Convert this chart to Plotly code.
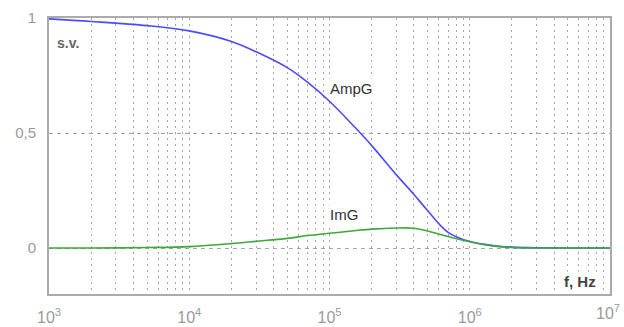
import plotly.graph_objects as go

# Data
freq_hz = [1e3, 2e3, 5e3, 1e4, 2e4, 3e4, 5e4, 7e4, 1e5, 1.5e5, 2e5, 3e5, 4e5,
           5e5, 7e5, 1e6, 1.5e6, 2e6, 3e6, 5e6, 1e7]
amp_g = [0.996, 0.985, 0.967, 0.944, 0.898, 0.853, 0.784, 0.72, 0.638, 0.528,
         0.445, 0.318, 0.233, 0.163, 0.068, 0.028, 0.010, 0.004, 0.001, 0.0, 0.0]
im_g = [0.0, 0.0, 0.002, 0.006, 0.019, 0.029, 0.042, 0.054, 0.064, 0.075,
        0.082, 0.087, 0.086, 0.074, 0.05, 0.027, 0.008, 0.002, 0.0, 0.0, 0.0]

x_tick_vals = [1e3, 1e4, 1e5, 1e6, 1e7]
x_tick_text = ["10<sup>3</sup>", "10<sup>4</sup>", "10<sup>5</sup>",
               "10<sup>6</sup>", ""]
last_x_label = "10<sup>7</sup>"
y_tick_vals = [0, 0.5, 1]
y_tick_text = ["0", "0,5", "1"]

minor_vals = [m * 10 ** e for e in range(3, 7) for m in range(2, 10)]

fig = go.Figure()
fig.add_trace(go.Scatter(x=freq_hz, y=amp_g, mode="lines", line_shape="spline",
                         line=dict(color="#4b4bff", width=1.6), name="AmpG"))
fig.add_trace(go.Scatter(x=freq_hz, y=im_g, mode="lines", line_shape="spline",
                         line=dict(color="#3ea83e", width=1.6), name="ImG"))

grid_c = "#a5a5a5"
fig.update_layout(
    width=624, height=327,
    margin=dict(l=49, r=14, t=18, b=33),
    paper_bgcolor="white", plot_bgcolor="white",
    showlegend=False,
    font=dict(family="Liberation Sans, Arial, sans-serif"),
    xaxis=dict(type="log", range=[3, 7], tickvals=x_tick_vals, ticktext=x_tick_text,
               automargin=False, ticklabelstandoff=8,
               showgrid=True, gridcolor=grid_c, griddash="2px,4px", gridwidth=1,
               minor=dict(tickvals=minor_vals, showgrid=True, gridcolor=grid_c,
                          griddash="2px,4px", gridwidth=1),
               showline=True, mirror=True, linecolor="#ababab", linewidth=2,
               ticks="", zeroline=False,
               tickfont=dict(size=16, color="#9a9a9a")),
    yaxis=dict(range=[-0.2, 1.0], tickvals=y_tick_vals, ticktext=y_tick_text,
               automargin=False,
               showgrid=True, gridcolor=grid_c, griddash="4px,4px", gridwidth=1,
               showline=True, mirror=True, linecolor="#ababab", linewidth=2,
               ticks="", zeroline=False, ticklabelstandoff=8,
               tickfont=dict(size=15, color="#9a9a9a")),
)

fig.add_annotation(xref="paper", yref="paper", x=1, y=0, text=last_x_label,
                   showarrow=False, xanchor="right", yanchor="top",
                   xshift=12, yshift=-6,
                   font=dict(size=16, color="#9a9a9a"))
fig.add_annotation(xref="paper", yref="paper", x=0.011, y=0.909, text="<b>s.v.</b>",
                   showarrow=False, xanchor="left", yanchor="middle",
                   font=dict(size=14, color="#666666"))
fig.add_annotation(x=4.99, y=0.694, text="AmpG", showarrow=False,
                   xanchor="left", yanchor="middle", bgcolor="white",
                   font=dict(size=15, color="#333333"))
fig.add_annotation(x=4.99, y=0.144, text="ImG", showarrow=False,
                   xanchor="left", yanchor="middle", bgcolor="white",
                   font=dict(size=15, color="#333333"))
fig.add_annotation(x=6.915, y=-0.144, text="<b>f, Hz</b>", showarrow=False,
                   xanchor="right", yanchor="middle", bgcolor="white",
                   font=dict(size=15, color="#444444"))

fig.write_html(
    "out.html",
    config={"displayModeBar": False},
    post_script="document.body.style.margin='0';document.body.style.overflow='hidden';",
)
